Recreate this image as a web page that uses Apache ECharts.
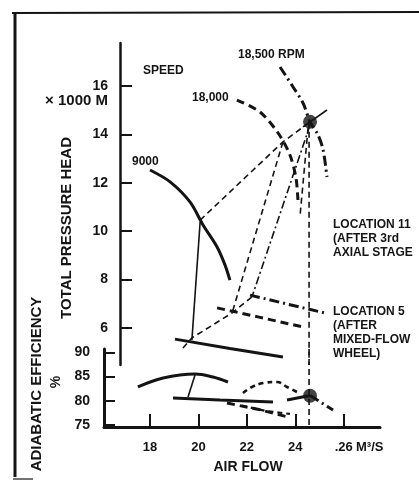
<!DOCTYPE html>
<html><head><meta charset="utf-8">
<script src="https://cdn.jsdelivr.net/npm/echarts@6/dist/echarts.min.js"></script>
<style>html,body{margin:0;padding:0;background:#fff}#c{width:419px;height:481px}</style>
</head><body><div id="c"></div>
<script>
// ---- axis ticks / labels ----
const airFlowTicks = [18, 20, 22, 24, 26];
const airFlowTickLabels = ['18', '20', '22', '24', '.26'];
const headTicks = [6, 8, 10, 12, 14, 16];
const effTicks = [75, 80, 85, 90];

// ---- total pressure head (x1000 m) vs air flow (m3/s) ----
const speed9000Loc11 = [[18.0,12.53],[18.83,12.04],[19.65,11.21],[20.19,10.26],[20.77,9.35],[21.10,8.60],[21.30,7.98]];
const speed18000Loc11 = [[21.59,15.42],[22.54,14.93],[23.29,14.06],[23.78,13.15],[24.03,12.20],[24.11,11.29]];
const speed18500Loc11 = [[23.37,16.79],[23.91,15.96],[24.32,15.30],[24.61,14.52],[24.94,13.98],[25.15,13.36],[25.31,12.24]];
const opLineLoc11 = [[20.07,10.46],[23.49,13.69],[24.61,14.52]];
const opLineLoc11Stub = [[24.32,14.31],[25.31,15.01]];
const link9000 = [[20.07,10.38],[19.73,5.50]];
const link18000 = [[23.49,13.69],[21.39,6.62]];
const link18500 = [[24.61,14.39],[22.21,7.28]];
const linkDot = [[24.53,14.27],[24.20,10.67]];
const speed9000Loc5 = [[19.03,5.54],[21.3,5.15],[23.49,4.80]];
const speed18000Loc5 = [[20.77,6.83],[22.5,6.45],[24.32,6.04]];
const speed18500Loc5 = [[22.13,7.36],[23.7,6.98],[25.23,6.62]];
const opLineLoc5 = [[19.36,5.17],[19.73,5.59],[21.39,6.62],[22.21,7.28]];
const designPoint = [[24.61,14.52]];
const designFlow = 24.57;

// ---- adiabatic efficiency (%) vs air flow ----
const eff9000Loc11 = [[17.50,82.86],[18.54,84.71],[19.86,85.54],[20.60,84.92],[21.22,83.89]];
const effLink9000 = [[19.86,85.33],[19.57,80.79]];
const eff9000Loc5 = [[18.95,80.59],[20.89,80.17],[23.08,79.76]];
const eff18000Loc11 = [[21.84,81.62],[22.21,82.86],[22.67,83.68],[23.25,83.89],[23.66,82.86],[24.07,81.82]];
const eff18000Loc5a = [[21.18,79.55],[22.5,78.2],[23.74,76.6]];
const eff18000Loc5b = [[21.8,79.0],[22.8,77.9],[23.78,77.3]];
const eff18500Left = [[23.66,80.17],[24.61,81.10]];
const eff18500Right = [[24.61,81.10],[25.56,78.1]];
const effDesignPoint = [[24.61,81.05]];

const INK = '#141414';
const FONT = '"Liberation Sans", Arial, sans-serif';
const thick = { width: 3, type: 'solid' };
const thickDash = { width: 3, type: [8, 5] };
const thickDashDot = { width: 3, type: [10, 4, 2, 4] };
const thin = { width: 1.6, type: 'solid' };
const thinDash = { width: 1.6, type: [6, 4] };
const thinDashDot = { width: 1.6, type: [8, 3, 2, 3] };

function line(data, grid, style, smooth) {
  return {
    type: 'line', data: data, xAxisIndex: grid, yAxisIndex: grid,
    showSymbol: false, symbol: 'none', smooth: smooth || false, silent: true,
    lineStyle: Object.assign({ color: INK, cap: 'butt' }, style), z: 3
  };
}
function dot(data, grid, size) {
  return { type: 'scatter', data: data, xAxisIndex: grid, yAxisIndex: grid,
    symbolSize: size, itemStyle: { color: INK }, z: 5, silent: true };
}

const series = [
  line(speed9000Loc11, 0, thick, 0.3),
  line(speed18000Loc11, 0, thickDash, 0.3),
  line(speed18500Loc11, 0, thickDashDot, 0.3),
  line(opLineLoc11, 0, thinDash),
  line(opLineLoc11Stub, 0, thin),
  line(link9000, 0, thin),
  line(link18000, 0, thinDash),
  line(link18500, 0, thinDashDot),
  line(linkDot, 0, thinDash),
  line(speed9000Loc5, 0, thick),
  line(speed18000Loc5, 0, thickDash),
  line(speed18500Loc5, 0, thickDashDot),
  line(opLineLoc5, 0, thinDash),
  line([[designFlow, designPoint[0][1]], [designFlow, 4.47]], 0, thinDash),
  dot(designPoint, 0, 14),
  line(eff9000Loc11, 1, thick, 0.4),
  line(effLink9000, 1, thin),
  line(eff9000Loc5, 1, thick),
  line(eff18000Loc11, 1, { width: 2.6, type: [5, 4] }, 0.4),
  line(eff18000Loc5a, 1, thickDash),
  line(eff18000Loc5b, 1, { width: 2.2, type: [5, 4] }),
  line(eff18500Left, 1, thick),
  line(eff18500Right, 1, thickDashDot),
  line([[designFlow, 90.7], [designFlow, 74.6]], 1, thinDash),
  dot(effDesignPoint, 1, 14)
];

function txt(text, x, y, size, opts) {
  opts = opts || {};
  return {
    type: 'text', x: x, y: y, rotation: opts.rot || 0, z: 10, silent: true,
    style: {
      text: text, fill: INK, font: (opts.weight || 'bold') + ' ' + size + 'px ' + FONT,
      align: opts.align || 'left', verticalAlign: 'middle',
      textAlign: opts.align || 'left', textVerticalAlign: 'middle'
    }
  };
}

const chart = echarts.init(document.getElementById('c'), null, { renderer: 'canvas' });
chart.setOption({
  animation: false,
  backgroundColor: '#fff',
  grid: [
    { left: 120, right: 39, top: 43, bottom: 116 },
    { left: 104, right: 39, top: 349, bottom: 54 }
  ],
  xAxis: [
    { type: 'value', gridIndex: 0, min: 16.76, max: 27.5, show: false },
    { type: 'value', gridIndex: 1, min: 16.1, max: 27.5,
      axisLine: { show: true, lineStyle: { color: INK, width: 3 } },
      axisTick: { show: true, inside: true, length: 13, lineStyle: { color: INK, width: 2 }, customValues: airFlowTicks },
      axisLabel: { show: true, margin: 14, color: INK, fontFamily: FONT, fontWeight: 'bold', fontSize: 13,
        customValues: airFlowTicks,
        formatter: function (v) { const i = airFlowTicks.indexOf(v); return i >= 0 ? airFlowTickLabels[i] : ''; } },
      splitLine: { show: false } }
  ],
  yAxis: [
    { type: 'value', gridIndex: 0, min: 4.47, max: 17.78,
      axisLine: { show: true, lineStyle: { color: INK, width: 2.5 } },
      axisTick: { show: true, inside: true, length: 12, lineStyle: { color: INK, width: 2 }, customValues: headTicks },
      axisLabel: { show: true, margin: 12, color: INK, fontFamily: FONT, fontWeight: 'bold', fontSize: 14, customValues: headTicks },
      splitLine: { show: false } },
    { type: 'value', gridIndex: 1, min: 74.6, max: 90.7,
      axisLine: { show: true, lineStyle: { color: INK, width: 3 } },
      axisTick: { show: true, inside: true, length: 11, lineStyle: { color: INK, width: 2 }, customValues: effTicks },
      axisLabel: { show: true, margin: 14, color: INK, fontFamily: FONT, fontWeight: 'bold', fontSize: 14, customValues: effTicks },
      splitLine: { show: false } }
  ],
  series: series,
  graphic: [
    { type: 'line', silent: true, shape: { x1: 15, y1: 12, x2: 15, y2: 477 }, style: { stroke: INK, lineWidth: 3 } },
    { type: 'line', silent: true, shape: { x1: 12, y1: 13, x2: 419, y2: 12 }, style: { stroke: INK, lineWidth: 2 } },
    { type: 'line', silent: true, shape: { x1: 13, y1: 479, x2: 33, y2: 479 }, style: { stroke: INK, lineWidth: 1.2 } },
    txt('SPEED', 143, 71, 12),
    txt('18,500 RPM', 238, 55, 12),
    txt('18,000', 192, 98, 12),
    txt('9000', 132, 162, 12),
    txt('× 1000 M', 108, 101, 15, { align: 'right' }),
    txt('LOCATION 11', 333, 225, 12),
    txt('(AFTER 3rd', 333, 239, 12),
    txt('AXIAL STAGE', 333, 253, 12),
    txt('LOCATION 5', 333, 312, 12),
    txt('(AFTER', 333, 326, 12),
    txt('MIXED-FLOW', 333, 340, 12),
    txt('WHEEL)', 333, 354, 12),
    txt('M³/S', 356, 447, 13),
    txt('AIR FLOW', 248, 467, 14, { align: 'center' }),
    txt('TOTAL PRESSURE HEAD', 67, 228, 15, { align: 'center', rot: Math.PI / 2 }),
    txt('ADIABATIC EFFICIENCY', 37, 384, 15, { align: 'center', rot: Math.PI / 2 }),
    txt('%', 56, 382, 14, { align: 'center', rot: Math.PI / 2 })
  ]
});
</script>
</body></html>
